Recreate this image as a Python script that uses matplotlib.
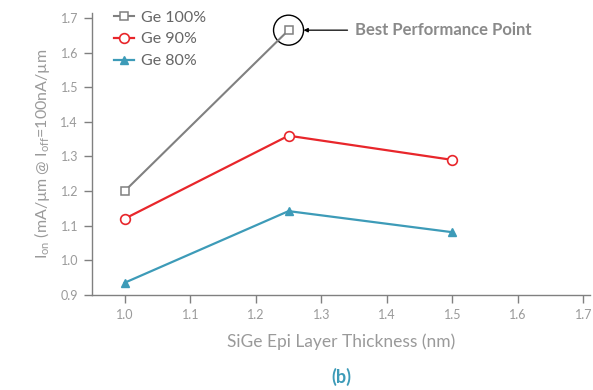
import numpy as np
import matplotlib.pyplot as plt
from matplotlib.patches import Ellipse

plt.rcParams['font.family'] = ['Lato', 'DejaVu Sans']

thickness = [1.0, 1.25, 1.5]
ge100 = [1.20, 1.665]
ge90 = [1.12, 1.36, 1.29]
ge80 = [0.935, 1.142, 1.081]
x_ticks = [1.0, 1.1, 1.2, 1.3, 1.4, 1.5, 1.6, 1.7]
y_ticks = [0.9, 1.0, 1.1, 1.2, 1.3, 1.4, 1.5, 1.6, 1.7]

gray = '#808080'
red = '#e8262b'
teal = '#3d9bb8'
tick_col = '#9a9a9a'

fig = plt.figure(figsize=(5.93, 3.90), dpi=100)
ax = fig.add_axes([0.155, 0.244, 0.84, 0.723])

ax.plot(thickness[:2], ge100, color=gray, lw=1.5, marker='s', ms=6,
        mfc='white', mec=gray, mew=1.1, label='Ge 100%')
ax.plot(thickness, ge90, color=red, lw=1.6, marker='o', ms=7,
        mfc='white', mec=red, mew=1.2, label='Ge 90%')
ax.plot(thickness, ge80, color=teal, lw=1.6, marker='^', ms=6,
        label='Ge 80%')

ax.set_xlim(0.95, 1.71)
ax.set_ylim(0.9, 1.715)
ax.set_xticks(x_ticks)
ax.set_yticks(y_ticks)
ax.set_xticklabels(['%.1f' % v for v in x_ticks])
ax.set_yticklabels(['%.1f' % v for v in y_ticks])

for s in ['top', 'right']:
    ax.spines[s].set_visible(False)
for s in ['left', 'bottom']:
    ax.spines[s].set_color(gray)
    ax.spines[s].set_linewidth(1.0)
ax.tick_params(direction='out', length=6, width=1.0, color=gray,
               labelcolor=tick_col, labelsize=9, pad=4)

ax.set_xlabel('SiGe Epi Layer Thickness (nm)', color=tick_col, fontsize=12.5,
              labelpad=9)
ax.set_ylabel(r'I$_{\mathregular{on}}$ (mA/µm @ I$_{\mathregular{off}}$=100nA/µm',
              color=tick_col, fontsize=11.5, labelpad=6)

# best performance marker
best_x, best_y = thickness[1], ge100[1]
w = 30 / (ax.get_position().width * fig.bbox.width) * (1.71 - 0.95)
h = 30 / (ax.get_position().height * fig.bbox.height) * (1.715 - 0.9)
ax.add_patch(Ellipse((best_x, best_y), w, h, fill=False, ec='black', lw=1.0,
                     clip_on=False))
ax.annotate('', xy=(best_x + w / 2, best_y), xytext=(1.34, best_y),
            arrowprops=dict(arrowstyle='-|>', color='black', lw=0.9,
                            mutation_scale=6, shrinkA=0, shrinkB=0))
ax.text(1.352, best_y, 'Best Performance Point', color='#8a8a8a',
        fontsize=12, fontweight='bold', va='center', ha='left')

leg = ax.legend(loc='upper left', bbox_to_anchor=(0.015, 1.06), frameon=False,
                fontsize=11.5, handlelength=1.25, handletextpad=0.45,
                labelspacing=0.48, labelcolor='#666666')

fig.text(0.5 * (0.155 + 0.995), 0.033, '(b)', color=teal, fontsize=13,
         fontweight='bold', ha='center', va='center')

fig.savefig('out.png', dpi=100)
